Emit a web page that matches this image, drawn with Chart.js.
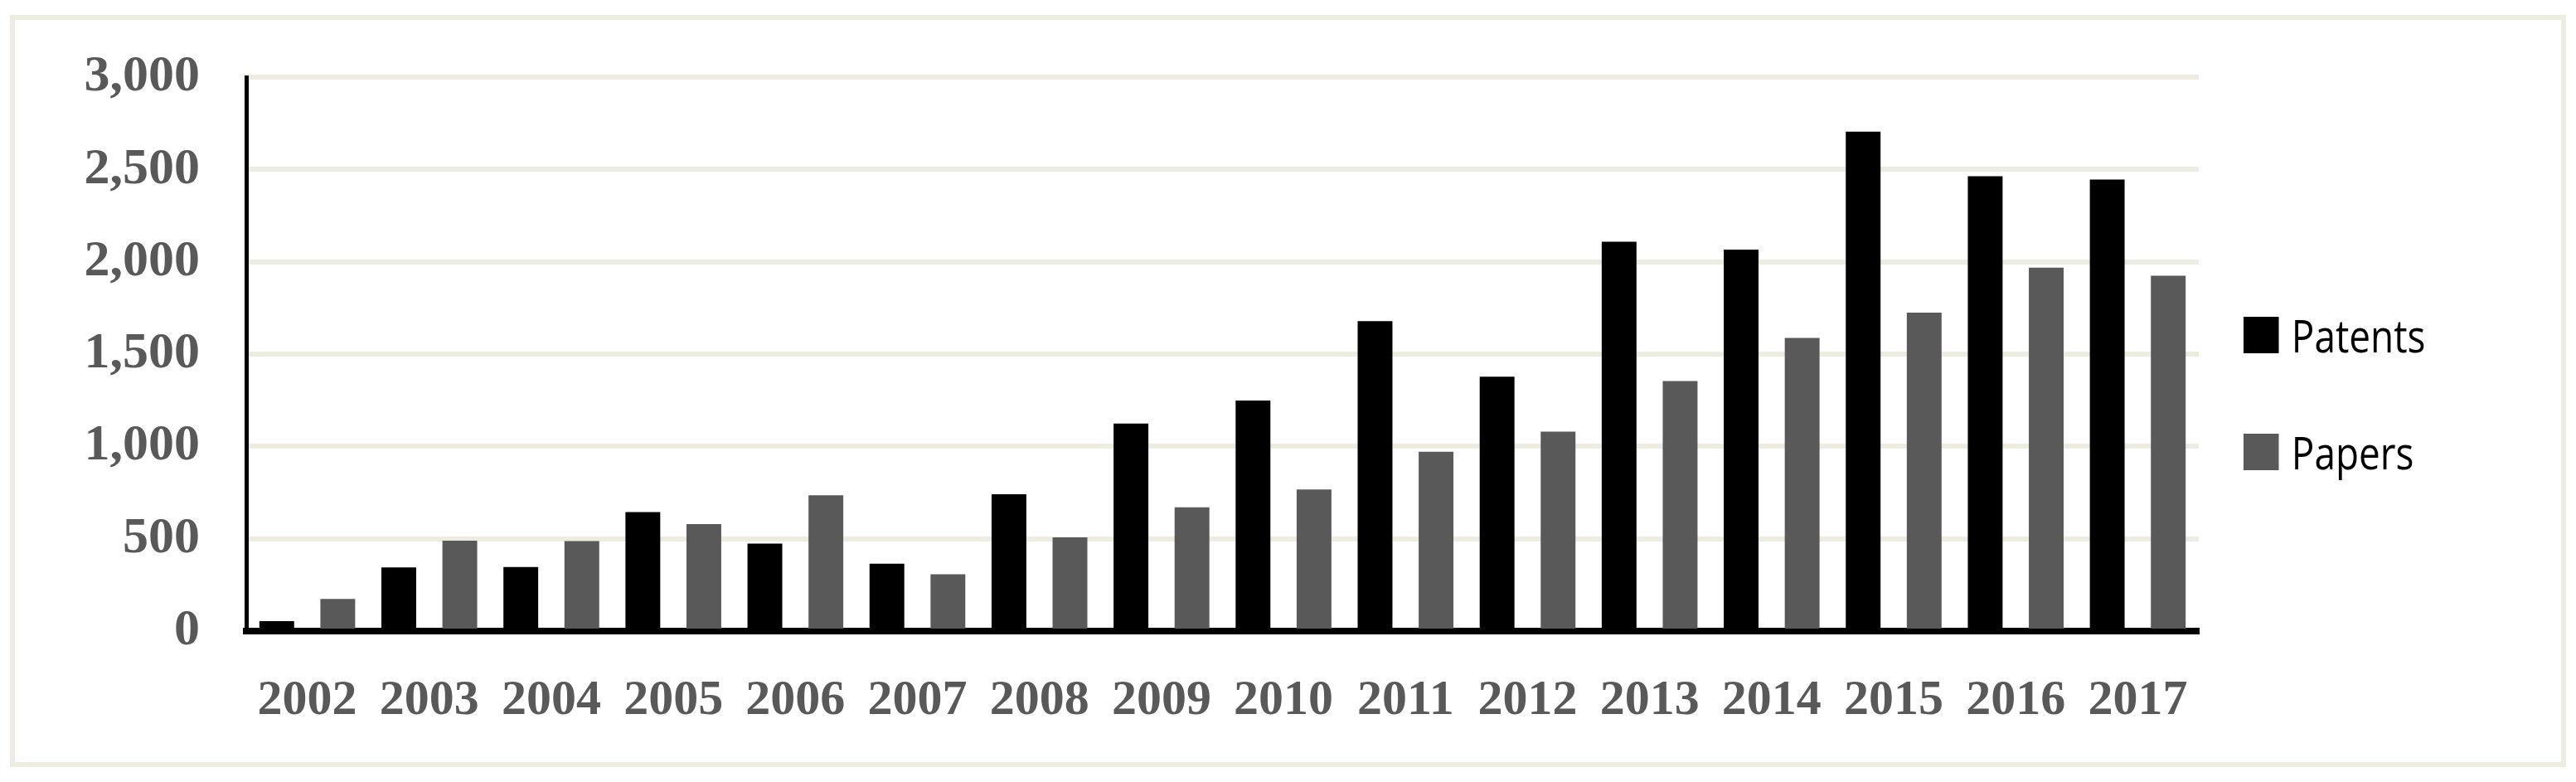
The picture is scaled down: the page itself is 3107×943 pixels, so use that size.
<!DOCTYPE html>
<html><head><meta charset="utf-8">
<script src="https://cdn.jsdelivr.net/npm/chart.js@4/dist/chart.umd.min.js"></script>
<style>
html,body{margin:0;padding:0;background:#fff;width:3107px;height:943px;overflow:hidden}
#wrap{position:absolute;left:0;top:0;width:3107px;height:943px}
#frame{position:absolute;left:12px;top:18px;width:3071px;height:895px;border:6px solid #eeebe2;pointer-events:none}
.leg{position:absolute;left:2706px;font-family:"Open Sans",sans-serif;font-size:54px;color:#000;display:flex;align-items:center;transform:scaleX(0.85);transform-origin:left center}
.leg span.b{display:inline-block;width:50px;height:44px;margin-right:18px}
</style></head>
<body>
<div id="wrap"><canvas id="c" width="3107" height="943"></canvas></div>
<div id="frame"></div>
<div class="leg" style="top:367px"><span class="b" style="background:#000"></span>Patents</div>
<div class="leg" style="top:508px"><span class="b" style="background:#595959"></span>Papers</div>
<script>
const years=['2002','2003','2004','2005','2006','2007','2008','2009','2010','2011','2012','2013','2014','2015','2016','2017'];
const patents=[54,345,347,645,474,365,741,1124,1249,1679,1378,2109,2067,2705,2464,2446];
const papers=[174,490,487,580,736,308,508,671,767,972,1080,1355,1588,1725,1969,1925];
const yTicks=[0,500,1000,1500,2000,2500,3000];
new Chart(document.getElementById('c'),{
 type:'bar',
 data:{labels:years,datasets:[
  {label:'Patents',data:patents,backgroundColor:'#000000',barPercentage:0.57,categoryPercentage:1},
  {label:'Papers',data:papers,backgroundColor:'#595959',barPercentage:0.57,categoryPercentage:1}]},
 options:{responsive:false,animation:false,devicePixelRatio:1,
  layout:{padding:{left:0,top:64,right:455,bottom:0}},
  plugins:{legend:{display:false},tooltip:{enabled:false}},
  scales:{
   x:{grid:{display:false,drawTicks:false},border:{color:'#000',width:8},
      ticks:{color:'#595959',font:{family:'Liberation Serif',weight:'bold',size:60},padding:48,maxRotation:0},
      afterFit:s=>{s.height=182;}},
   y:{min:0,max:3000,afterBuildTicks:s=>{s.ticks=yTicks.map(v=>({value:v}));},
      grid:{color:'#eeebe2',lineWidth:6,drawTicks:false},border:{color:'#000',width:5},
      ticks:{color:'#595959',font:{family:'Liberation Serif',weight:'bold',size:62},padding:56},
      afterFit:s=>{s.width=297;}}
  }}
});
</script>
</body></html>
